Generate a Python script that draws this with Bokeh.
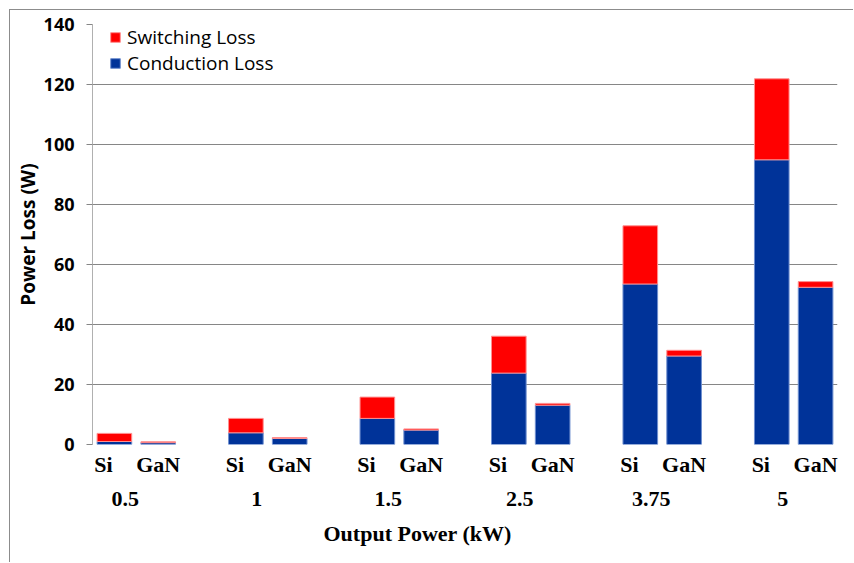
from bokeh.plotting import figure
from bokeh.models import Range1d, FixedTicker, LinearAxis, Legend, LegendItem, Title
from bokeh.embed import file_html
from bokeh.resources import INLINE

groups = ["0.5", "1", "1.5", "2.5", "3.75", "5"]
devices = ["Si", "GaN"]
si_conduction = [1.0, 3.9, 8.7, 23.8, 53.5, 94.9]
si_switching = [2.7, 4.8, 7.1, 12.3, 19.4, 27.0]
gan_conduction = [0.6, 2.0, 4.8, 13.1, 29.5, 52.4]
gan_switching = [0.3, 0.3, 0.4, 0.6, 1.9, 1.9]
y_ticks = [0, 20, 40, 60, 80, 100, 120, 140]

RED = "#ff0000"
BLUE = "#003399"

n = len(groups)
si_x = [3 * i + 0.5 for i in range(n)]
gan_x = [3 * i + 1.5 for i in range(n)]
xs = si_x + gan_x
cond = si_conduction + gan_conduction
sw = [c + s for c, s in zip(si_conduction, si_switching)] + [c + s for c, s in zip(gan_conduction, gan_switching)]

p = figure(width=844, height=553, output_backend="svg", toolbar_location=None,
           x_range=Range1d(0, 3 * n - 1), y_range=Range1d(0, 140),
           min_border_left=82, min_border_right=17, min_border_top=14, min_border_bottom=119)
p.styles = {"margin-left": "9px", "margin-top": "9px",
            "border-left": "1px solid #8c8c8c", "border-top": "1px solid #8c8c8c"}
p.outline_line_color = None

r_cond = p.vbar(x=xs, width=0.79, bottom=0, top=cond, fill_color=BLUE, line_color="#6f8fcf", line_width=1)
r_sw = p.vbar(x=xs, width=0.79, bottom=cond, top=sw, fill_color=RED, line_color="#ff9090", line_width=1)

# y axis
p.yaxis.ticker = FixedTicker(ticks=y_ticks)
p.yaxis.axis_line_color = "#b0b0b0"
p.yaxis.major_tick_line_color = "#868686"
p.yaxis.major_tick_out = 6
p.yaxis.major_tick_in = 0
p.yaxis.minor_tick_line_color = None
p.yaxis.major_label_standoff = 12
p.yaxis.major_label_text_font = "Open Sans"
p.yaxis.major_label_text_font_style = "bold"
p.yaxis.major_label_text_font_size = "18px"
p.yaxis.major_label_text_color = "#000000"
p.yaxis.axis_label = "Power Loss (W)"
p.yaxis.axis_label_text_font = "Open Sans"
p.yaxis.axis_label_text_font_style = "bold"
p.yaxis.axis_label_text_font_size = "19px"
p.yaxis.axis_label_text_color = "#000000"
p.yaxis.axis_label_standoff = 0

p.ygrid.ticker = FixedTicker(ticks=y_ticks)
p.ygrid.grid_line_color = "#868686"
p.ygrid.grid_line_width = 1
p.xgrid.grid_line_color = None

# device tick labels (Si / GaN)
dev_ticks = [x - 0.25 for x in si_x] + [x for x in gan_x]
dev_labels = {t: devices[0] for t in dev_ticks[:n]}
dev_labels.update({t: devices[1] for t in dev_ticks[n:]})
xa = p.xaxis[0]
xa.ticker = FixedTicker(ticks=dev_ticks)
xa.major_label_overrides = dev_labels
xa.axis_line_color = None
xa.major_tick_line_color = None
xa.minor_tick_line_color = None
xa.major_label_standoff = 1
xa.major_label_text_font = "Liberation Serif"
xa.major_label_text_font_style = "bold"
xa.major_label_text_font_size = "22px"
xa.major_label_text_color = "#000000"

# group tick labels
grp_ticks = [3 * i + 0.75 for i in range(n)]
ga = LinearAxis(ticker=FixedTicker(ticks=grp_ticks),
                major_label_overrides={t: g for t, g in zip(grp_ticks, groups)})
ga.axis_line_color = None
ga.major_tick_line_color = None
ga.minor_tick_line_color = None
ga.major_label_standoff = 6
ga.major_label_text_font = "Liberation Serif"
ga.major_label_text_font_style = "bold"
ga.major_label_text_font_size = "22px"
ga.major_label_text_color = "#000000"
p.add_layout(ga, "below")

p.add_layout(Title(text="Output Power (kW)", align="left", offset=231, standoff=20,
                   text_font="Liberation Serif", text_font_style="bold", text_font_size="22px",
                   text_color="#000000"), "below")

legend = Legend(items=[LegendItem(label="Switching Loss", renderers=[r_sw]),
                       LegendItem(label="Conduction Loss", renderers=[r_cond])],
                location=(17, 368))
legend.margin = 0
legend.padding = 3
legend.spacing = 0
legend.glyph_width = 12
legend.glyph_height = 12
legend.label_standoff = 6
legend.label_height = 26
legend.label_text_font = "Open Sans"
legend.label_text_font_size = "19px"
legend.label_text_color = "#000000"
legend.border_line_color = None
legend.background_fill_alpha = 0
p.add_layout(legend)

open("out.html", "w").write(file_html(p, INLINE))
